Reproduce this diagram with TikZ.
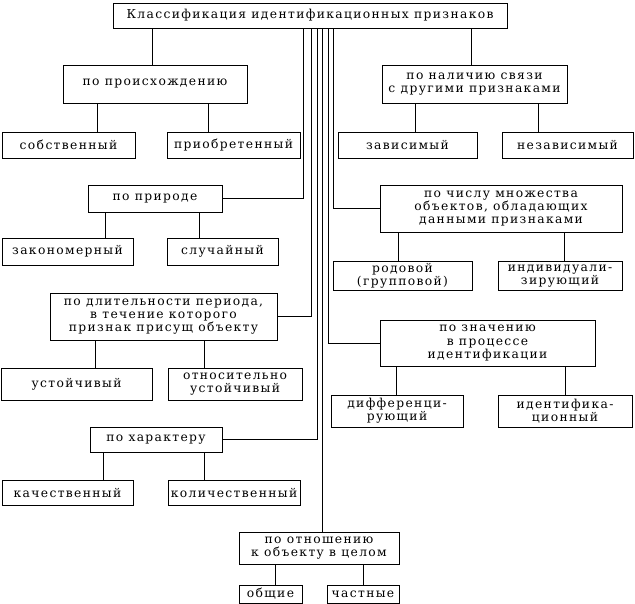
\documentclass[tikz,border=0pt]{standalone}
\usepackage{fontspec}
\setmainfont{DejaVu Serif}[LetterSpace=11]
\usepackage{tikz}

\begin{document}
\begin{tikzpicture}[x=1pt, y=-1pt, line width=0.8pt,
    box/.style={draw, align=center, inner sep=0pt, font=\fontsize{12.3}{13.3}\selectfont}]
  \useasboundingbox (0,0) rectangle (635,604);
  % top
  \node[box, minimum width=394, minimum height=25] (top) at (310,15.5) {Классификация идентификационных признаков};
  % left column
  \node[box, minimum width=184, minimum height=38] (orig) at (155,84) {по происхождению};
  \node[box, minimum width=133, minimum height=26] (own) at (68.5,145) {собственный};
  \node[box, minimum width=133, minimum height=26] (acq) at (233.5,145) {приобретенный};
  \node[box, minimum width=134, minimum height=27] (nature) at (155,198.5) {по природе};
  \node[box, minimum width=131, minimum height=27] (regular) at (67.5,251.5) {закономерный};
  \node[box, minimum width=111, minimum height=27] (random) at (222.5,251.5) {случайный};
  \node[box, minimum width=227, minimum height=47] (dur) at (163.5,316.5) {по длительности периода,\\в течение которого\\признак присущ объекту};
  \node[box, minimum width=151, minimum height=32] (stable) at (76.5,384) {устойчивый};
  \node[box, minimum width=134, minimum height=32] (relstable) at (235,384) {относительно\\устойчивый};
  \node[box, minimum width=132, minimum height=25] (char) at (156,439.5) {по характеру};
  \node[box, minimum width=131, minimum height=25] (qual) at (67.5,492.5) {качественный};
  \node[box, minimum width=132, minimum height=25] (quant) at (234,492.5) {количественный};
  % right column
  \node[box, minimum width=185, minimum height=38] (link) at (474.5,84) {по наличию связи\\с другими признаками};
  \node[box, minimum width=139, minimum height=26] (dep) at (407.5,145) {зависимый};
  \node[box, minimum width=131, minimum height=26] (indep) at (567.5,145) {независимый};
  \node[box, minimum width=242, minimum height=47] (num) at (501,208.5) {по числу множества\\объектов, обладающих\\данными признаками};
  \node[box, minimum width=139, minimum height=29] (generic) at (402.5,276) {родовой\\(групповой)};
  \node[box, minimum width=124, minimum height=29] (indiv) at (560,276) {индивидуали-\\зирующий};
  \node[box, minimum width=215, minimum height=46] (val) at (487.5,343) {по значению\\в процессе\\идентификации};
  \node[box, minimum width=132, minimum height=32] (diff) at (397,411) {дифференци-\\рующий};
  \node[box, minimum width=134, minimum height=32] (ident) at (565,411) {идентифика-\\ционный};
  % bottom
  \node[box, minimum width=160, minimum height=32] (rel) at (319,548) {по отношению\\к объекту в целом};
  \node[box, minimum width=63, minimum height=18] (common) at (270.5,594) {общие};
  \node[box, minimum width=72, minimum height=18] (part) at (363,594) {частные};

  % from the top box
  \draw (152,0 |- top.south) -- (152,0 |- orig.north);
  \draw (471,0 |- top.south) -- (471,0 |- link.north);
  \draw (303,0 |- top.south) |- (nature.east);
  \draw (311,0 |- top.south) |- (dur.east);
  \draw (317,0 |- top.south) |- (char.east);
  \draw (322,0 |- top.south) -- (322,0 |- rel.north);
  \draw (328,0 |- top.south) |- (val.west);
  \draw (333,0 |- top.south) |- (num.west);

  % to the leaves
  \draw (97,0 |- orig.south) -- (97,0 |- own.north);
  \draw (208,0 |- orig.south) -- (208,0 |- acq.north);
  \draw (415,0 |- link.south) -- (415,0 |- dep.north);
  \draw (538,0 |- link.south) -- (538,0 |- indep.north);
  \draw (105,0 |- nature.south) -- (105,0 |- regular.north);
  \draw (199,0 |- nature.south) -- (199,0 |- random.north);
  \draw (398,0 |- num.south) -- (398,0 |- generic.north);
  \draw (564,0 |- num.south) -- (564,0 |- indiv.north);
  \draw (95,0 |- dur.south) -- (95,0 |- stable.north);
  \draw (204,0 |- dur.south) -- (204,0 |- relstable.north);
  \draw (396,0 |- val.south) -- (396,0 |- diff.north);
  \draw (565,0 |- val.south) -- (565,0 |- ident.north);
  \draw (103,0 |- char.south) -- (103,0 |- qual.north);
  \draw (204,0 |- char.south) -- (204,0 |- quant.north);
  \draw (275,0 |- rel.south) -- (275,0 |- common.north);
  \draw (363,0 |- rel.south) -- (363,0 |- part.north);
\end{tikzpicture}
\end{document}
